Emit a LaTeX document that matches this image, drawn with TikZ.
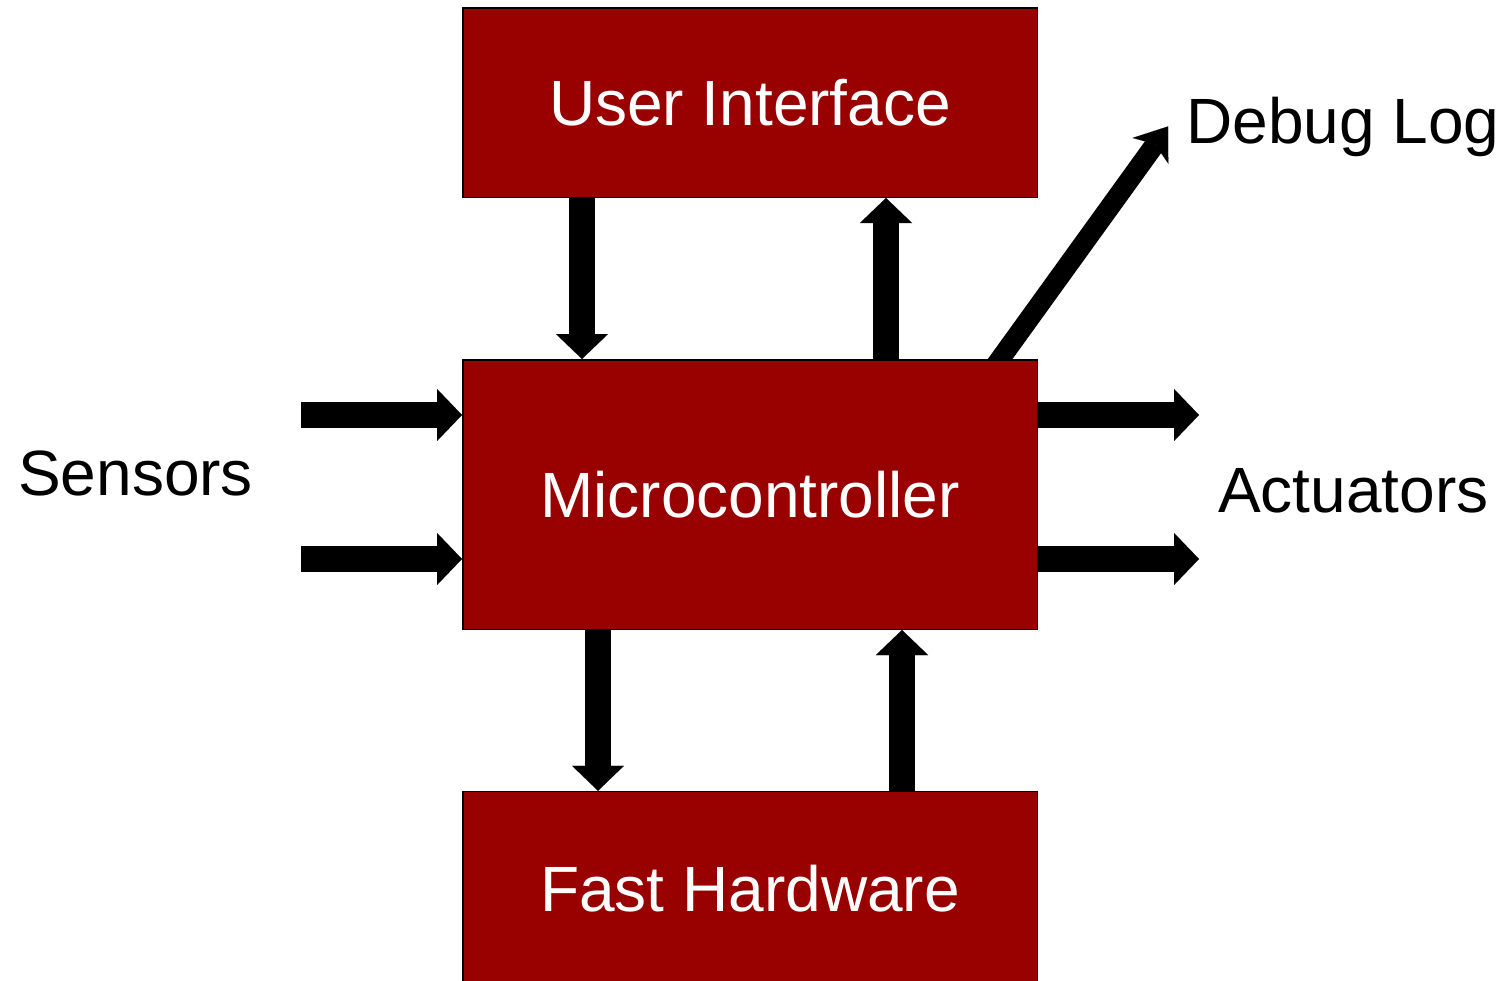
\documentclass[tikz,border=0pt]{standalone}
\usepackage{fontspec}
\setmainfont{Liberation Sans}
\usetikzlibrary{arrows.meta}
\definecolor{boxred}{HTML}{990000}
\pgfdeclarelayer{bg}
\pgfsetlayers{bg,main}
\begin{document}
\begin{tikzpicture}[x=1pt,y=-1pt,
  bigfont/.style={font=\fontsize{64pt}{77pt}\selectfont},
  blk/.style={draw=black,line width=1.5pt,fill=boxred,text=white,minimum width=574.5pt,inner sep=0pt,bigfont},
  fat/.style={line width=26pt,-{Triangle[width=52pt,length=25pt,line width=0.01pt]}},
  thin/.style={line width=20pt,-{Stealth[width=44pt,length=30pt,inset=8pt,line width=0.01pt]}},
  lbl/.style={inner sep=0pt,anchor=base west,bigfont}]
\useasboundingbox (0,0) rectangle (1504,980);
\clip (0,0) rectangle (1504,980);

\node[blk,minimum height=189.5pt] (ui) at (750,102.5) {User Interface};
\node[blk,minimum height=269.5pt] (mc) at (750,494.5) {Microcontroller};
\node[blk,minimum height=230pt,text depth=36pt] (fh) at (750,906.5) {Fast Hardware};

\node[lbl] (sens) at (18,495) {Sensors};
\node[lbl] (act) at (1218,512) {Actuators};
\node[lbl] (dl) at (1186,143) {Debug Log};

\coordinate (s1) at (301,415);
\coordinate (s2) at (301,559);
\coordinate (a1) at (1199,415);
\coordinate (a2) at (1199,559);

\begin{pgfonlayer}{bg}
\draw[fat] ([xshift=120pt]ui.south west) -- ([xshift=120pt]mc.north west);
\draw[fat] ([xshift=424pt]mc.north west) -- ([xshift=424pt]ui.south west);
\draw[fat] ([xshift=136pt]mc.south west) -- ([xshift=136pt]fh.north west);
\draw[fat] ([xshift=440pt]fh.north west) -- ([xshift=440pt]mc.south west);
\draw[fat] (s1) -- (s1 -| mc.west);
\draw[fat] (s2) -- (s2 -| mc.west);
\draw[fat] (a1 -| mc.east) -- (a1);
\draw[fat] (a2 -| mc.east) -- (a2);
\draw[thin] ([xshift=529.5pt,yshift=-12pt]mc.north west) -- ([xshift=-18pt]dl.west);
\end{pgfonlayer}
\end{tikzpicture}
\end{document}
